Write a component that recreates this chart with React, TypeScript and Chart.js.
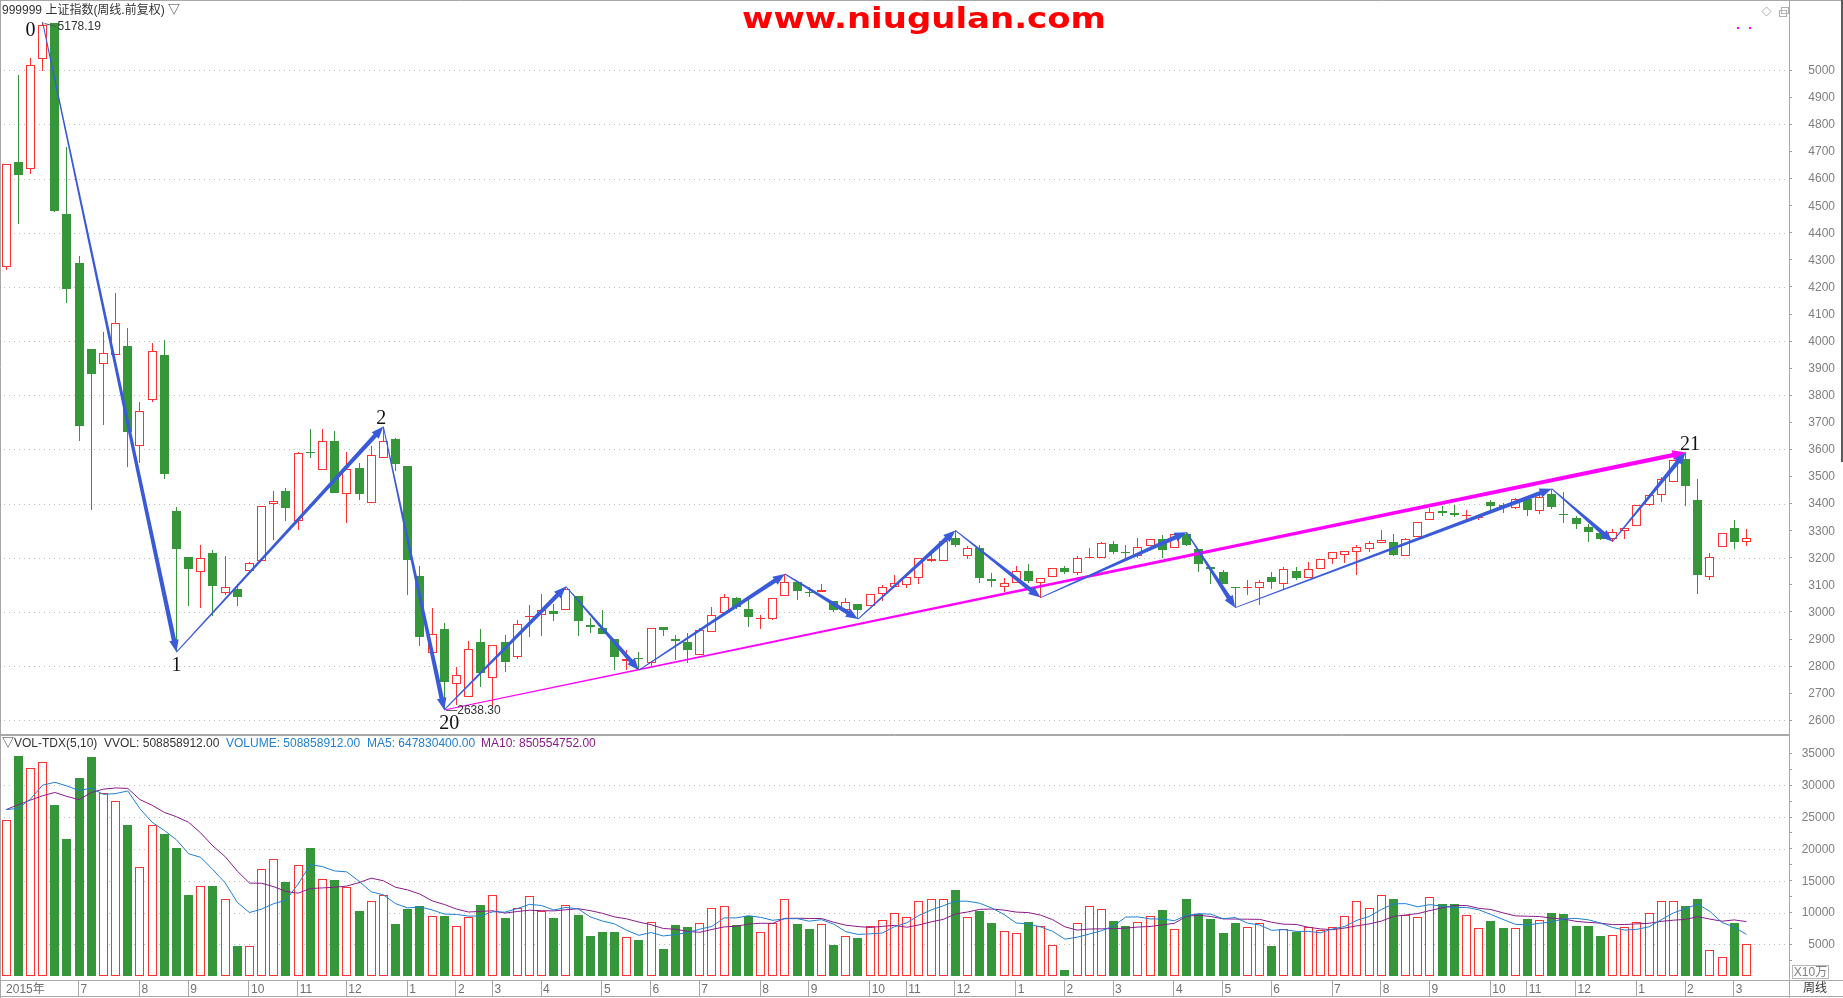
import React, { useEffect, useRef } from "react";
import { Chart, registerables } from "chart.js";

Chart.register(...registerables);

// ---------------- data (weekly, 上证指数 999999) ----------------
const opens = [
  4273, 4660, 4634, 5042, 5174, 4470, 4289, 3971, 3915, 3947,
  3982, 3612, 3781, 3947, 3373, 3204, 3148, 3218, 3070, 3084,
  3153, 3190, 3399, 3448, 3337, 3591, 3524, 3631, 3435, 3532,
  3404, 3568, 3638, 3540, 3134, 2848, 2938, 2735, 2685, 2889,
  2756, 2889, 2833, 2982, 2988, 3003, 3007, 3060, 2953, 2941,
  2900, 2818, 2831, 2813, 2945, 2901, 2890, 2841, 2925, 2996,
  3051, 3010, 2974, 2974, 3058, 3111, 3074, 3073, 3041, 3008,
  3029, 3023, 3068, 3094, 3099, 3125, 3188, 3190, 3273, 3205,
  3236, 3121, 3094, 3106, 3151, 3106, 3129, 3163, 3143, 3199,
  3199, 3252, 3220, 3205, 3242, 3269, 3236, 3289, 3232, 3166,
  3148, 3092, 3088, 3088, 3129, 3103, 3151, 3124, 3158, 3195,
  3210, 3221, 3232, 3254, 3258, 3205, 3276, 3339, 3372, 3365,
  3355, 3346, 3405, 3396, 3383, 3418, 3372, 3435, 3361, 3348,
  3314, 3291, 3271, 3298, 3316, 3394, 3431, 3479, 3566, 3414,
  3129, 3239, 3310, 3258,
];
const highs = [
  4655, 4984, 5047, 5178.19, 5176, 4718, 4315, 3971, 4032, 4177,
  4050, 3774, 3994, 4006, 3387, 3204, 3249, 3230, 3206, 3103,
  3186, 3391, 3445, 3457, 3590, 3675, 3675, 3669, 3591, 3550,
  3613, 3684.57, 3643, 3540, 3170, 3014, 2959, 2796, 2894, 2938,
  2877, 2916, 2971, 3025, 3065, 3030, 3094, 3060, 2978, 3008,
  2900, 2858, 2853, 2940, 2945, 2916, 2922, 2940, 3020, 3066,
  3057, 3047, 2988, 3051, 3140, 3111, 3092, 3104, 3041, 3051,
  3029, 3066, 3100, 3136, 3129, 3198, 3217, 3262, 3301, 3242,
  3248, 3143, 3124, 3168, 3177, 3125, 3161, 3168, 3205, 3238,
  3259, 3262, 3248, 3273, 3271, 3285, 3291, 3294, 3232, 3166,
  3154, 3094, 3119, 3119, 3146, 3166, 3166, 3185, 3195, 3221,
  3225, 3248, 3262, 3303, 3289, 3273, 3332, 3383, 3392, 3396,
  3377, 3359, 3414, 3402, 3420, 3418, 3439, 3455, 3444, 3353,
  3325, 3291, 3308, 3310, 3394, 3435, 3497, 3561, 3589, 3492,
  3218, 3291, 3340, 3306,
];
const lows = [
  4261, 4432, 4616, 4998, 4476, 4142, 3631, 3375, 3689, 3947,
  3537, 3549, 3776, 3492, 2852, 3021, 3014, 2985, 3062, 3021,
  3139, 3190, 3265, 3335, 3302, 3567, 3524, 3441, 3330, 3415,
  3404, 3568, 3519, 3061, 2873, 2848, 2638.3, 2657, 2685, 2722,
  2651, 2778, 2826, 2908, 2910, 2965, 3007, 2910, 2922, 2917,
  2786, 2786, 2785, 2801, 2913, 2823, 2813, 2841, 2925, 2996,
  3010, 2944, 2937, 2969, 3058, 3046, 3055, 3073, 3000, 3008,
  2974, 3023, 3040, 3094, 3087, 3104, 3185, 3190, 3239, 3195,
  3106, 3092, 3072, 3106, 3106, 3053, 3129, 3140, 3137, 3199,
  3199, 3214, 3201, 3200, 3242, 3200, 3236, 3242, 3149, 3103,
  3104, 3016, 3063, 3026, 3085, 3082, 3119, 3124, 3158, 3178,
  3180, 3136, 3223, 3254, 3205, 3205, 3276, 3339, 3356, 3350,
  3340, 3340, 3377, 3365, 3381, 3353, 3360, 3380, 3330, 3306,
  3260, 3264, 3260, 3269, 3316, 3390, 3405, 3479, 3393, 3068,
  3119, 3239, 3232, 3242,
];
const closes = [
  4655, 4613, 5019, 5166, 4480, 4193, 3685, 3877, 3955, 4067,
  3664, 3741, 3962, 3509, 3232, 3160, 3199, 3096, 3091, 3056,
  3179, 3391, 3410, 3384, 3588, 3588, 3631, 3441, 3527, 3437,
  3579, 3631, 3545, 3191, 2906, 2918, 2743, 2767, 2863, 2774,
  2877, 2815, 2955, 2985, 3009, 2991, 3083, 2965, 2943, 2917,
  2833, 2826, 2826, 2940, 2932, 2891, 2858, 2933, 2988, 3055,
  3017, 2983, 2979, 3051, 3110, 3076, 3071, 3081, 3008, 3037,
  3009, 3066, 3092, 3106, 3129, 3198, 3195, 3262, 3249, 3236,
  3127, 3113, 3106, 3153, 3115, 3125, 3161, 3146, 3199, 3203,
  3254, 3222, 3217, 3239, 3271, 3227, 3287, 3249, 3177, 3157,
  3104, 3087, 3091, 3110, 3109, 3158, 3127, 3158, 3195, 3221,
  3225, 3239, 3254, 3265, 3212, 3268, 3332, 3369, 3367, 3357,
  3357, 3351, 3393, 3389, 3418, 3375, 3426, 3386, 3358, 3324,
  3295, 3271, 3297, 3310, 3394, 3431, 3492, 3561, 3466, 3135,
  3202, 3291, 3257, 3273,
];
// volume in units of 10万 (X10万)
const volumes = [
  24500, 34600, 32700, 33600, 26900, 21600, 31100, 34400, 28800, 27500,
  23700, 17100, 23800, 22400, 20100, 12800, 14200, 14100, 12100, 4800,
  4800, 16900, 18400, 14800, 17500, 20100, 15200, 15100, 14000, 10200,
  11800, 12800, 8200, 10600, 11000, 9500, 9500, 7900, 9300, 11200,
  12700, 9200, 10700, 12600, 10300, 9200, 11200, 9600, 6300, 7000,
  7000, 6100, 5700, 8500, 4300, 8100, 7700, 8300, 10700, 11000,
  8100, 9400, 7000, 8400, 12200, 8200, 7400, 8200, 4900, 6300,
  6000, 7900, 8800, 9900, 9300, 11800, 12200, 12100, 13500, 9300,
  10200, 8400, 7100, 6800, 8500, 7900, 4900, 1000, 8300, 11000,
  10500, 8700, 7900, 8500, 9400, 10400, 7400, 12100, 9800, 9000,
  6800, 8400, 7700, 8300, 4800, 7400, 7000, 7700, 7200, 7800,
  9400, 11800, 10700, 12700, 12200, 9600, 9300, 12400, 11400, 11300,
  9600, 7500, 8700, 7500, 7500, 9000, 8800, 9900, 9800, 7900,
  7900, 6300, 6400, 7700, 8500, 9900, 11800, 11800, 11000, 12200,
  4100, 3000, 8400, 5088.58912,
];
// MA values for the first weeks (earlier weeks are off-chart)
const ma5Lead = [26160, 26360, 27820, 30000];
const ma10Lead = [26160, 26940, 27660, 28340, 28860, 28240, 27720, 28860, 29380];

const monthTickIdx = [0, 6, 11, 15, 20, 24, 28, 33, 37, 40, 44, 49, 53, 57, 62, 66, 71, 74, 78, 83, 87, 91, 96, 100, 104, 109, 113, 117, 122, 125, 129, 134, 138, 142];
const monthTickLabels = ["2015年", "7", "8", "9", "10", "11", "12", "1", "2", "3", "4", "5", "6", "7", "8", "9", "10", "11", "12", "1", "2", "3", "4", "5", "6", "7", "8", "9", "10", "11", "12", "1", "2", "3"];

const priceTicks = [2600, 2700, 2800, 2900, 3000, 3100, 3200, 3300, 3400, 3500, 3600, 3700, 3800, 3900, 4000, 4100, 4200, 4300, 4400, 4500, 4600, 4700, 4800, 4900, 5000];
const priceGrid = [2600, 2800, 3000, 3200, 3400, 3600, 3800, 4000, 4200, 4400, 4600, 4800, 5000];
const volTicks = [2500, 5000, 7500, 10000, 12500, 15000, 17500, 20000, 22500, 25000, 27500, 30000, 32500, 35000];
const volLabels = [5000, 10000, 15000, 20000, 25000, 30000, 35000];
const volGrid = [5000, 10000, 15000, 20000, 25000, 30000];

// wave (blue arrows) and trend (magenta arrow)
const waveIdx = [3, 14, 31, 36, 46, 52, 64, 70, 78, 85, 97, 101, 127, 132, 138];
const wavePrice = [5178.19, 2852, 3684.57, 2638.3, 3094, 2785, 3140, 2974, 3301, 3053, 3294, 3016, 3455, 3260, 3589];
const trendIdx = [36, 138];
const trendPrice = [2638.3, 3589];
const waveNames = ["0", "1", "2", "20", "21"];
const waveNameIdx = [3, 14, 31, 36, 138];
const waveNamePrice = [5178.19, 2852, 3684.57, 2638.3, 3589];

// -------------- derived --------------
const N_SLOTS = 147;
const slotLabels = Array.from({ length: N_SLOTS }, (_, i) => String(i + 1));
const UP = "#ff3232";
const DOWN = "#36963a";
const isUp = opens.map((o, i) => closes[i] >= o);
const candleColor = isUp.map((u) => (u ? UP : DOWN));

function movingAvg(vals: number[], n: number, lead: number[]) {
  return vals.map((_, i) => {
    if (i < lead.length) return lead[i];
    let s = 0;
    for (let k = i - n + 1; k <= i; k++) s += vals[k];
    return s / n;
  });
}
const ma5 = movingAvg(volumes, 5, ma5Lead);
const ma10 = movingAvg(volumes, 10, ma10Lead);

const AXIS_W = 54;
const W = 1843;
const PRICE_H = 735;
const VOL_H = 263;
const FONT = '"Liberation Sans", Arial, "Noto Sans CJK SC", sans-serif';

function taperArrow(
  ctx: CanvasRenderingContext2D,
  x0: number, y0: number, x1: number, y1: number,
  w0: number, w1: number, headLen: number, headW: number
) {
  const dx = x1 - x0, dy = y1 - y0;
  const len = Math.hypot(dx, dy);
  const ux = dx / len, uy = dy / len;
  const nx = -uy, ny = ux;
  const bx = x1 - ux * headLen, by = y1 - uy * headLen;
  ctx.beginPath();
  ctx.moveTo(x0 + nx * w0, y0 + ny * w0);
  ctx.lineTo(bx + nx * w1, by + ny * w1);
  ctx.lineTo(bx + nx * headW, by + ny * headW);
  ctx.lineTo(x1, y1);
  ctx.lineTo(bx - nx * headW, by - ny * headW);
  ctx.lineTo(bx - nx * w1, by - ny * w1);
  ctx.lineTo(x0 - nx * w0, y0 - ny * w0);
  ctx.closePath();
  ctx.fill();
}

// snaps bar elements (positions computed by the library) to whole pixels for crisp edges
const snapPlugin = {
  id: "snapBars",
  afterDatasetsUpdate(chart: any) {
    chart.data.datasets.forEach((_: any, di: number) => {
      const meta = chart.getDatasetMeta(di);
      if (meta.type !== "bar") return;
      meta.data.forEach((el: any) => {
        if (el == null || el.x == null || isNaN(el.x)) return;
        el.x = Math.floor(el.x) + 0.5;
        let top = Math.round(el.y);
        let base = Math.round(el.base);
        if (top === base) base = top + 1;
        el.y = top;
        el.base = base;
      });
    });
  },
};

const pricePlugin = {
  id: "priceDeco",
  beforeDatasetsDraw(chart: any) {
    const { ctx, chartArea, scales } = chart;
    const y = scales.y;
    ctx.save();
    ctx.strokeStyle = "#bdbdbd";
    ctx.lineWidth = 1;
    ctx.setLineDash([1, 4]);
    priceGrid.forEach((v) => {
      const py = Math.round(y.getPixelForValue(v)) + 0.5;
      ctx.beginPath();
      ctx.moveTo(chartArea.left + 4, py);
      ctx.lineTo(chartArea.right - 2, py);
      ctx.stroke();
    });
    ctx.restore();
  },
  afterDatasetsDraw(chart: any) {
    const { ctx, scales } = chart;
    const x = scales.x, y = scales.y;
    ctx.save();
    // magenta trend arrow
    ctx.fillStyle = "#ff00ff";
    taperArrow(
      ctx,
      x.getPixelForValue(trendIdx[0]), y.getPixelForValue(trendPrice[0]),
      x.getPixelForValue(trendIdx[1]), y.getPixelForValue(trendPrice[1]),
      0.5, 2.2, 13, 5
    );
    // blue wave arrows
    ctx.fillStyle = "#3a5bd9";
    for (let k = 0; k < waveIdx.length - 1; k++) {
      taperArrow(
        ctx,
        x.getPixelForValue(waveIdx[k]), y.getPixelForValue(wavePrice[k]),
        x.getPixelForValue(waveIdx[k + 1]), y.getPixelForValue(wavePrice[k + 1]),
        0.5, 2.2, 12, 4.8
      );
    }
    // wave numbers
    const offs: Record<string, [number, number]> = { "0": [-12, 9], "1": [0, 14], "2": [-2, -8], "20": [5, 13.5], "21": [4.5, -8] };
    ctx.fillStyle = "#111";
    ctx.font = '20px "Liberation Serif", "DejaVu Serif", serif';
    ctx.textAlign = "center";
    ctx.textBaseline = "middle";
    waveNames.forEach((t, k) => {
      const px = x.getPixelForValue(waveNameIdx[k]) + offs[t][0];
      const py = y.getPixelForValue(waveNamePrice[k]) + offs[t][1];
      ctx.fillText(t, px, py);
    });
    // high / low markers
    ctx.font = "12px " + FONT;
    ctx.textAlign = "left";
    ctx.fillStyle = "#333";
    ctx.strokeStyle = "#555";
    ctx.lineWidth = 1;
    const hx = x.getPixelForValue(3), hy = y.getPixelForValue(highs[3]);
    ctx.beginPath();
    ctx.moveTo(hx + 2, hy + 1.5);
    ctx.lineTo(hx + 14, hy + 4.5);
    ctx.stroke();
    ctx.fillText(highs[3].toFixed(2), hx + 15, hy + 5);
    const lx = x.getPixelForValue(36), ly = y.getPixelForValue(lows[36]);
    ctx.beginPath();
    ctx.moveTo(lx + 2, ly + 0.5);
    ctx.lineTo(lx + 13, ly + 0.5);
    ctx.stroke();
    ctx.fillText(lows[36].toFixed(2), lx + 13, ly + 1);
    ctx.restore();
  },
  afterDraw(chart: any) {
    const { ctx, chartArea, scales } = chart;
    const y = scales.y;
    ctx.save();
    // axis labels
    ctx.font = "12px " + FONT;
    ctx.fillStyle = "#7f7f7f";
    ctx.textAlign = "right";
    ctx.textBaseline = "middle";
    priceTicks.forEach((v) => ctx.fillText(String(v), 1835, y.getPixelForValue(v) + 0.5));
    // frame lines
    ctx.strokeStyle = "#a8a8a8";
    ctx.beginPath();
    ctx.moveTo(0, 0.5); ctx.lineTo(W, 0.5);
    ctx.moveTo(0.5, 0); ctx.lineTo(0.5, PRICE_H);
    ctx.moveTo(0, PRICE_H - 0.5); ctx.lineTo(chartArea.right, PRICE_H - 0.5);
    ctx.stroke();
    ctx.fillStyle = "#5a5a5a";
    ctx.fillRect(1841, 0, 2, 462);
    // title
    ctx.fillStyle = "#333";
    ctx.textAlign = "left";
    ctx.font = "12px " + FONT;
    ctx.fillText("999999 上证指数(周线.前复权) ▽", 2, 11);
    // watermark
    ctx.font = 'bold 29px "DejaVu Sans", sans-serif';
    ctx.textBaseline = "alphabetic";
    const wm = "www.niugulan.com";
    const mw = ctx.measureText(wm).width;
    ctx.translate(742, 28);
    ctx.scale(364 / mw, 1);
    ctx.fillStyle = "#ff0000";
    ctx.fillText(wm, 0, 0);
    ctx.setTransform(1, 0, 0, 1, 0, 0);
    // top-right icons
    ctx.strokeStyle = "#b0b0b0";
    ctx.beginPath();
    ctx.moveTo(1766.5, 7); ctx.lineTo(1771, 11.5); ctx.lineTo(1766.5, 16); ctx.lineTo(1762, 11.5); ctx.closePath();
    ctx.stroke();
    ctx.strokeRect(1779.5, 10.5, 7, 6);
    ctx.strokeRect(1781.5, 7.5, 7, 6);
    ctx.fillStyle = "#ff00ff";
    ctx.fillRect(1737, 27, 2, 2);
    ctx.fillRect(1749, 27, 2, 2);
    ctx.restore();
  },
};

const volPlugin = {
  id: "volDeco",
  beforeDatasetsDraw(chart: any) {
    const { ctx, chartArea, scales } = chart;
    const y = scales.y;
    ctx.save();
    ctx.strokeStyle = "#bdbdbd";
    ctx.lineWidth = 1;
    ctx.setLineDash([1, 4]);
    volGrid.forEach((v) => {
      const py = Math.round(y.getPixelForValue(v)) + 0.5;
      ctx.beginPath();
      ctx.moveTo(chartArea.left + 4, py);
      ctx.lineTo(chartArea.right - 2, py);
      ctx.stroke();
    });
    ctx.restore();
  },
  afterDraw(chart: any) {
    const { ctx, chartArea, scales } = chart;
    const x = scales.x, y = scales.y;
    ctx.save();
    ctx.font = "12px " + FONT;
    ctx.fillStyle = "#7f7f7f";
    ctx.textAlign = "right";
    ctx.textBaseline = "middle";
    volLabels.forEach((v) => ctx.fillText(String(v), 1835, y.getPixelForValue(v) + 0.5));
    // frame
    ctx.strokeStyle = "#a8a8a8";
    ctx.lineWidth = 1;
    const by = chartArea.bottom + 0.5;
    ctx.beginPath();
    ctx.moveTo(0, 0.5); ctx.lineTo(chartArea.right, 0.5);
    ctx.moveTo(0, by); ctx.lineTo(W, by);
    ctx.moveTo(0.5, 0); ctx.lineTo(0.5, VOL_H);
    ctx.moveTo(chartArea.right + 0.5, chartArea.bottom); ctx.lineTo(chartArea.right + 0.5, VOL_H);
    ctx.moveTo(0, VOL_H - 1.5); ctx.lineTo(W, VOL_H - 1.5);
    ctx.stroke();
    // month ticks
    ctx.textAlign = "left";
    ctx.fillStyle = "#707070";
    monthTickIdx.forEach((idx, k) => {
      const px = x.getPixelForValue(idx);
      if (k > 0) {
        ctx.beginPath();
        ctx.moveTo(Math.round(px - 1) + 0.5, chartArea.bottom);
        ctx.lineTo(Math.round(px - 1) + 0.5, VOL_H - 1);
        ctx.stroke();
      }
      ctx.fillText(monthTickLabels[k], k === 0 ? px : px + 1.5, chartArea.bottom + 10);
    });
    // unit box & period
    ctx.strokeStyle = "#b8b8b8";
    ctx.strokeRect(1792.5, 230.5, 36, 13);
    ctx.fillStyle = "#7f7f7f";
    ctx.textAlign = "center";
    ctx.fillText("X10万", 1810.5, 237.5);
    ctx.fillStyle = "#333";
    ctx.fillText("周线", 1815, chartArea.bottom + 9);
    // header
    ctx.textAlign = "left";
    ctx.fillStyle = "#333";
    ctx.fillText("▽VOL-TDX(5,10)  VVOL: 508858912.00", 2, 9);
    ctx.fillStyle = "#1f7fd2";
    ctx.fillText("VOLUME: 508858912.00", 226, 9);
    ctx.fillText("MA5: 647830400.00", 367, 9);
    ctx.fillStyle = "#8a1a8a";
    ctx.fillText("MA10: 850554752.00", 481, 9);
    ctx.restore();
  },
};

export default function App() {
  const priceRef = useRef<HTMLCanvasElement | null>(null);
  const volRef = useRef<HTMLCanvasElement | null>(null);

  useEffect(() => {
    document.body.style.margin = "0";
    document.body.style.overflow = "hidden";
    const pxPerPt = 650 / 2400;
    const pMax = 5000 + 70.3 / pxPerPt;
    const pMin = pMax - PRICE_H / pxPerPt;
    const priceChart = new Chart(priceRef.current as HTMLCanvasElement, {
      type: "bar",
      data: {
        labels: slotLabels,
        datasets: [
          {
            label: "wick",
            data: lows.map((l, i) => [l, highs[i]]) as any,
            backgroundColor: candleColor,
            borderWidth: 0,
            barThickness: 1,
            inflateAmount: 0,
            grouped: false,
            order: 2,
          } as any,
          {
            label: "body",
            data: opens.map((o, i) => [Math.min(o, closes[i]), Math.max(o, closes[i])]) as any,
            backgroundColor: isUp.map((u) => (u ? "#ffffff" : DOWN)),
            borderColor: candleColor,
            borderWidth: 1,
            borderSkipped: false,
            barThickness: 9,
            inflateAmount: 0,
            minBarLength: 1,
            grouped: false,
            order: 1,
          } as any,
        ],
      },
      options: {
        responsive: false,
        animation: false,
        devicePixelRatio: 1,
        events: [],
        layout: { padding: 0 },
        plugins: { legend: { display: false }, tooltip: { enabled: false } },
        scales: {
          x: { display: false, offset: true },
          y: {
            position: "right",
            min: pMin,
            max: pMax,
            afterBuildTicks: (s: any) => { s.ticks = priceTicks.map((v) => ({ value: v })); },
            afterFit: (s: any) => { s.width = AXIS_W; },
            ticks: { display: false },
            grid: { drawOnChartArea: false, drawTicks: true, tickLength: 3, tickColor: "#9a9a9a", color: "#9a9a9a" },
            border: { display: true, color: "#a8a8a8", width: 1 },
          },
        },
      } as any,
      plugins: [snapPlugin, pricePlugin],
    });

    const vPx = 191 / 30000;
    const zeroY = 241.2;
    const vMax = zeroY / vPx;
    const vMin = -(245 - zeroY) / vPx;
    const volChart = new Chart(volRef.current as HTMLCanvasElement, {
      type: "bar",
      data: {
        labels: slotLabels,
        datasets: [
          {
            type: "line",
            label: "MA5",
            data: ma5,
            borderColor: "#1f7fd2",
            borderWidth: 1,
            pointRadius: 0,
            tension: 0,
            order: 1,
          } as any,
          {
            type: "line",
            label: "MA10",
            data: ma10,
            borderColor: "#8a1a8a",
            borderWidth: 1,
            pointRadius: 0,
            tension: 0,
            order: 2,
          } as any,
          {
            label: "VOL",
            data: volumes,
            backgroundColor: isUp.map((u) => (u ? "#ffffff" : DOWN)),
            borderColor: candleColor,
            borderWidth: 1,
            borderSkipped: false,
            barThickness: 9,
            inflateAmount: 0,
            grouped: false,
            order: 3,
          } as any,
        ],
      },
      options: {
        responsive: false,
        animation: false,
        devicePixelRatio: 1,
        events: [],
        layout: { padding: { top: 0, left: 0, right: 0, bottom: 18 } },
        plugins: { legend: { display: false }, tooltip: { enabled: false } },
        scales: {
          x: { display: false, offset: true },
          y: {
            position: "right",
            min: vMin,
            max: vMax,
            afterBuildTicks: (s: any) => { s.ticks = volTicks.map((v) => ({ value: v })); },
            afterFit: (s: any) => { s.width = AXIS_W; },
            ticks: { display: false },
            grid: { drawOnChartArea: false, drawTicks: true, tickLength: 3, tickColor: "#9a9a9a", color: "#9a9a9a" },
            border: { display: true, color: "#a8a8a8", width: 1 },
          },
        },
      } as any,
      plugins: [snapPlugin, volPlugin],
    });

    return () => {
      priceChart.destroy();
      volChart.destroy();
    };
  }, []);

  return (
    <div style={{ position: "absolute", left: 0, top: 0, width: W, height: 998, background: "#ffffff", overflow: "hidden" }}>
      <canvas ref={priceRef} width={W} height={PRICE_H} style={{ position: "absolute", left: 0, top: 0, display: "block" }} />
      <canvas ref={volRef} width={W} height={VOL_H} style={{ position: "absolute", left: 0, top: PRICE_H, display: "block" }} />
    </div>
  );
}
